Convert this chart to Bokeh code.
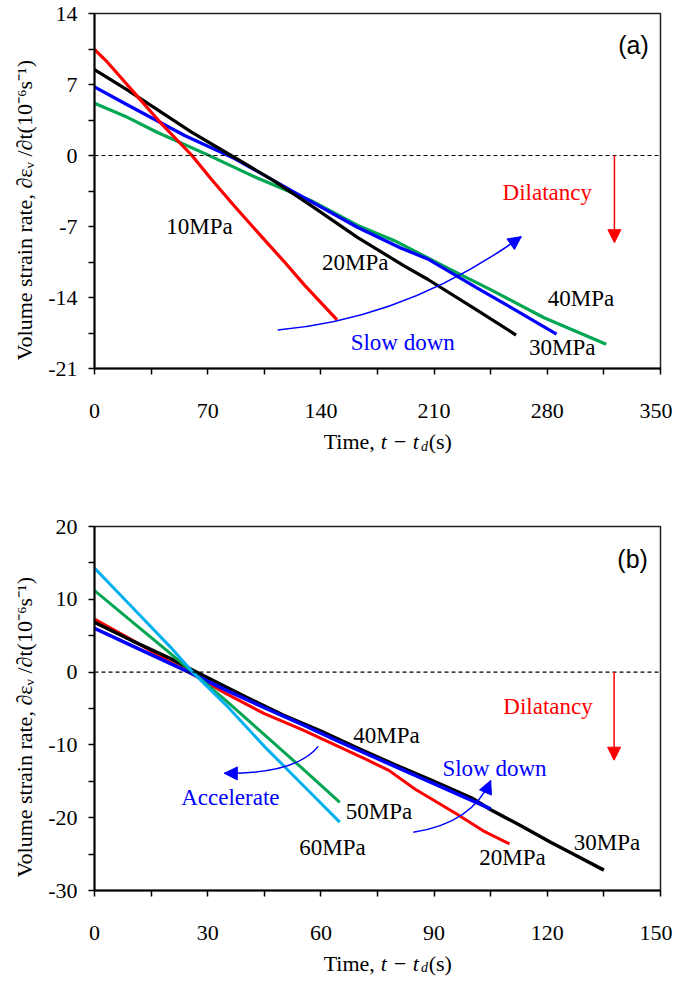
from bokeh.plotting import figure
from bokeh.layouts import column
from bokeh.models import Span, Arrow, NormalHead, FixedTicker, Range1d, Title
from bokeh.core.properties import value
from bokeh.embed import file_html
from bokeh.resources import INLINE

# ---------------- Panel (a) data ----------------
a_x_ticks = [0, 70, 140, 210, 280, 350]
a_x_minor = [35, 105, 175, 245, 315]
a_x_labels = ["0", "70", "140", "210", "280", "350"]
a_y_ticks = [-21, -14, -7, 0, 7, 14]
a_y_minor = [-17.5, -10.5, -3.5, 3.5, 10.5]
a_y_labels = ["-21", "-14", "-7", "0", "7", "14"]

a_10_t = [0, 8, 18.5, 25, 41, 60, 72, 86.6, 105, 117.5, 130, 150]
a_10_v = [10.45, 9.2, 7.3, 6.1, 3.2, 0.05, -2.3, -5.0, -8.3, -10.5, -12.8, -16.2]
a_20_t = [0, 20, 40, 60, 84.5, 110, 134, 162.8, 191.7, 206, 237, 260.7]
a_20_v = [8.46, 6.5, 4.4, 2.3, 0.0, -2.4, -4.94, -8.1, -10.9, -12.2, -15.3, -17.7]
a_30_t = [0, 18.5, 55.7, 86.6, 125.7, 162.8, 189, 206, 237, 257.7, 285.7]
a_30_v = [6.76, 5.15, 1.97, -0.3, -3.8, -7.1, -9.1, -10.2, -13.1, -15.0, -17.6]
a_40_t = [0, 18.5, 39, 70, 101, 134, 162.8, 185.5, 216, 247, 278, 316.4]
a_40_v = [5.15, 3.9, 2.27, 0.06, -2.25, -4.46, -6.9, -8.4, -10.9, -13.4, -16.0, -18.6]

a_lab_x = [64.9, 161.3, 289.2, 300.9]
a_lab_y = [-6.96, -10.5, -18.9, -14.1]
a_lab_text = ["10MPa", "20MPa", "30MPa", "40MPa"]

# ---------------- Panel (b) data ----------------
b_x_ticks = [0, 30, 60, 90, 120, 150]
b_x_minor = [15, 45, 75, 105, 135]
b_x_labels = ["0", "30", "60", "90", "120", "150"]
b_y_ticks = [-30, -20, -10, 0, 10, 20]
b_y_minor = [-25, -15, -5, 5, 15]
b_y_labels = ["-30", "-20", "-10", "0", "10", "20"]

b_20_t = [0, 10, 20, 25, 35, 45, 55, 65, 72, 78, 85, 96, 103, 110]
b_20_v = [7.3, 4.4, 1.4, 0.0, -3.0, -5.7, -7.9, -10.3, -12.0, -13.5, -16.1, -19.5, -21.8, -23.6]
b_30_t = [0, 10, 20, 27, 40, 50, 60, 70, 80, 90, 100, 105, 113, 121, 128, 135]
b_30_v = [6.85, 4.3, 1.9, 0.0, -3.4, -5.9, -8.1, -10.5, -12.8, -15.0, -17.3, -18.9, -21.1, -23.4, -25.3, -27.2]
b_40_t = [0, 10, 20, 25, 35, 45, 55, 65, 75, 85, 95, 105]
b_40_v = [6.0, 3.6, 1.2, 0.0, -2.5, -4.9, -7.2, -9.6, -11.9, -14.2, -16.5, -18.8]
b_50_t = [0, 10, 20, 26, 35, 45, 55, 65]
b_50_v = [11.2, 6.9, 2.6, 0.0, -4.0, -8.6, -13.2, -17.9]
b_60_t = [0, 10, 20, 26, 35, 45, 55, 65]
b_60_v = [14.3, 8.9, 3.5, 0.0, -4.6, -10.2, -15.4, -20.6]

b_lab_x = [77.4, 75.4, 63.1, 110.8, 135.8]
b_lab_y = [-8.7, -19.2, -24.1, -25.5, -23.4]
b_lab_text = ["40MPa", "50MPa", "60MPa", "20MPa", "30MPa"]

RED = "#FF0000"
BLACK = "#000000"
BLUE = "#0000FF"
GREEN = "#00A651"
CYAN = "#00B0F0"
SERIF = "Liberation Serif"
SANS = "Liberation Sans"
YLABEL = "Volume strain rate, \u2202\u03b5\u1d65 /\u2202t(10\u207b\u2076s\u207b\u00b9)"
W = 670


def make_fig(xr, yr, xt, xm, xl, yt, ym, yl, fh, btop, bbot, ylab_offset):
    p = figure(x_range=Range1d(*xr), y_range=Range1d(*yr),
               frame_width=566, frame_height=fh,
               min_border_left=92, min_border_right=12,
               min_border_top=btop, min_border_bottom=bbot,
               output_backend="svg", toolbar_location=None,
               background_fill_color="white", border_fill_color="white")
    p.xgrid.visible = False
    p.ygrid.visible = False
    p.outline_line_color = "#222222"
    p.outline_line_width = 1.5
    p.xaxis.ticker = FixedTicker(ticks=xt, minor_ticks=xm)
    p.yaxis.ticker = FixedTicker(ticks=yt, minor_ticks=ym)
    p.xaxis.major_label_overrides = {t: s for t, s in zip(xt, xl)}
    p.yaxis.major_label_overrides = {t: s for t, s in zip(yt, yl)}
    for ax in (p.xaxis, p.yaxis):
        ax.axis_line_width = 2
        ax.axis_line_color = "black"
        ax.major_tick_line_width = 1.5
        ax.minor_tick_line_width = 1.5
        ax.major_tick_line_color = "black"
        ax.minor_tick_line_color = "black"
        ax.major_tick_out = 6
        ax.major_tick_in = 0
        ax.minor_tick_out = 6
        ax.minor_tick_in = 0
        ax.major_label_text_font = SERIF
        ax.major_label_text_font_size = "22px"
        ax.major_label_text_color = "black"
    p.xaxis.major_label_standoff = 29
    p.yaxis.major_label_standoff = 11
    p.add_layout(Title(text=YLABEL, align="left", offset=ylab_offset, standoff=18,
                       text_font=SERIF, text_font_size="22px",
                       text_font_style="normal", text_color="black"), "left")
    p.add_layout(Span(location=0, dimension="width", line_color="black",
                      line_dash="4 3", line_width=1.2))
    return p


def time_fig(h, yc):
    # "Time, t − t_d (s)" row, built from pieces in a text-only strip
    f = figure(width=W, height=h, x_range=Range1d(0, W), y_range=Range1d(h, 0),
               min_border=0, output_backend="svg", toolbar_location=None,
               x_axis_location=None, y_axis_location=None,
               background_fill_color="white", border_fill_color="white")
    f.outline_line_color = None
    f.xgrid.visible = False
    f.ygrid.visible = False
    xs = 340
    f.text(x=[xs - 7], y=[yc], text=["Time,"], text_font=value(SERIF),
           text_font_size=value("22px"), text_align="right", text_baseline="middle")
    f.text(x=[xs], y=[yc], text=["t \u2212 t"], text_font=value(SERIF),
           text_font_style="italic", text_font_size=value("22px"),
           text_align="left", text_baseline="middle")
    f.text(x=[xs + 48], y=[yc + 4.5], text=["d"], text_font=value(SERIF),
           text_font_style="italic", text_font_size=value("14px"),
           text_align="left", text_baseline="middle")
    f.text(x=[xs + 57], y=[yc], text=["(s)"], text_font=value(SERIF),
           text_font_size=value("22px"), text_align="left", text_baseline="middle")
    return f


def curved_arrow(p, pts, color):
    (x0, y0), (cx, cy), (x1, y1) = pts
    p.quadratic(x0=[x0], y0=[y0], x1=[x1], y1=[y1], cx=[cx], cy=[cy],
                line_color=color, line_width=1.5)
    p.add_layout(Arrow(end=NormalHead(size=13, fill_color=color, line_color=color),
                       x_start=cx, y_start=cy, x_end=x1, y_end=y1, line_alpha=0))


def straight_arrow(p, x, y0, y1, color):
    p.add_layout(Arrow(end=NormalHead(size=13, fill_color=color, line_color=color),
                       x_start=x, y_start=y0, x_end=x, y_end=y1,
                       line_color=color, line_width=1.5))


def txt(p, xs, ys, texts, color, size="23px", font=SERIF):
    p.text(x=xs, y=ys, text=texts, text_color=color, text_font=value(font),
           text_font_size=value(size), text_align="center", text_baseline="middle")


# ---------------- Panel (a) ----------------
pa = make_fig((0, 350), (-21, 14), a_x_ticks, a_x_minor, a_x_labels,
              a_y_ticks, a_y_minor, a_y_labels, 355, 13, 60, 8)
pa.line(a_40_t, a_40_v, line_color=GREEN, line_width=3.2, line_join="round")
pa.line(a_30_t, a_30_v, line_color=BLUE, line_width=3.2, line_join="round")
pa.line(a_20_t, a_20_v, line_color=BLACK, line_width=3.2, line_join="round")
pa.line(a_10_t, a_10_v, line_color=RED, line_width=3.2, line_join="round")
txt(pa, a_lab_x, a_lab_y, a_lab_text, "black")
txt(pa, [280], [-3.6], ["Dilatancy"], RED)
txt(pa, [190.6], [-18.4], ["Slow down"], BLUE)
txt(pa, [333.3], [10.9], ["(a)"], "black", size="25px", font=SANS)
straight_arrow(pa, 321.5, 0, -8.6, RED)
curved_arrow(pa, [(113.3, -17.2), (193.0, -16.1), (263.9, -8.0)], BLUE)
ta = time_fig(85, 13)

# ---------------- Panel (b) ----------------
pb = make_fig((0, 150), (-30, 20), b_x_ticks, b_x_minor, b_x_labels,
              b_y_ticks, b_y_minor, b_y_labels, 364, 13, 60, 13)
pb.line(b_20_t, b_20_v, line_color=RED, line_width=3, line_join="round")
pb.line(b_30_t, b_30_v, line_color=BLACK, line_width=3.5, line_join="round")
pb.line(b_40_t, b_40_v, line_color=BLUE, line_width=3.5, line_join="round")
pb.line(b_50_t, b_50_v, line_color=GREEN, line_width=3, line_join="round")
pb.line(b_60_t, b_60_v, line_color=CYAN, line_width=3, line_join="round")
txt(pb, b_lab_x, b_lab_y, b_lab_text, "black")
txt(pb, [120.2], [-4.7], ["Dilatancy"], RED)
txt(pb, [106], [-13.3], ["Slow down"], BLUE)
txt(pb, [36], [-17.2], ["Accelerate"], BLUE)
txt(pb, [142.6], [15.6], ["(b)"], "black", size="25px", font=SANS)
straight_arrow(pb, 137.7, 0, -12.1, RED)
curved_arrow(pb, [(59.3, -10.2), (53.4, -14.0), (34.4, -13.9)], BLUE)
curved_arrow(pb, [(84.5, -22.0), (100.0, -20.8), (105.0, -14.9)], BLUE)
tb = time_fig(26, 12.5)

layout = column(pa, ta, pb, tb)
open("out.html", "w").write(file_html(layout, INLINE))
